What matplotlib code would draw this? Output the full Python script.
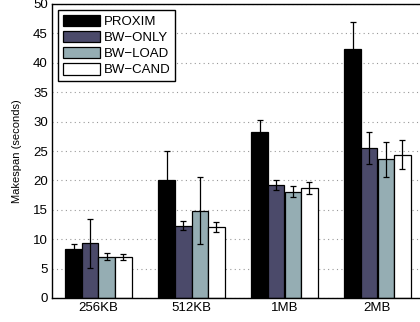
import numpy as np
import matplotlib.pyplot as plt

plt.rcParams["font.family"] = ["Liberation Sans", "DejaVu Sans"]

categories = ["256KB", "512KB", "1MB", "2MB"]
series = ["PROXIM", "BW\u2212ONLY", "BW\u2212LOAD", "BW\u2212CAND"]
proxim = [8.3, 20.0, 28.2, 42.4]
bw_only = [9.3, 12.3, 19.2, 25.5]
bw_load = [7.0, 14.8, 18.1, 23.6]
bw_cand = [7.0, 12.1, 18.65, 24.4]
proxim_err = [0.9, 5.0, 2.0, 4.5]
bw_only_err = [4.2, 0.8, 0.9, 2.7]
bw_load_err = [0.6, 5.7, 0.9, 3.0]
bw_cand_err = [0.5, 0.8, 1.0, 2.4]

values = [proxim, bw_only, bw_load, bw_cand]
errors = [proxim_err, bw_only_err, bw_load_err, bw_cand_err]
colors = ["#000000", "#4b4a6a", "#95adb3", "#ffffff"]

fig = plt.figure(figsize=(4.2, 3.22), dpi=100)
ax = fig.add_axes([52 / 420, 24 / 322, 372 / 420, 294 / 322])

x = np.arange(1, len(categories) + 1)
w = 0.179
for i, (vals, errs, c) in enumerate(zip(values, errors, colors)):
    pos = x + (i - 1.5) * w
    ax.bar(pos, vals, width=w, color=c, edgecolor="black", linewidth=0.9,
           label=series[i], zorder=2)
    ax.errorbar(pos, vals, yerr=errs, fmt="none", ecolor="black",
                elinewidth=0.9, capsize=2.5, capthick=0.9, zorder=3)

ax.set_xlim(0.5, 4.5)
ax.set_ylim(0, 50)
ax.set_yticks(range(0, 51, 5))
ax.set_xticks(x)
ax.set_xticklabels(categories)
ax.yaxis.grid(True, linestyle=(0, (1, 3)), color="#999999", linewidth=0.8, zorder=0)
ax.set_axisbelow(True)
ax.tick_params(axis="both", direction="in", length=0, labelsize=9.5, pad=3)
for s in ax.spines.values():
    s.set_linewidth(1.0)
    s.set_zorder(4)
ax.set_ylabel("Makespan (seconds)", fontsize=8, labelpad=8)

leg = ax.legend(loc="upper left", fontsize=9.5, frameon=True, fancybox=False,
                edgecolor="black", framealpha=1, handlelength=2.8,
                handleheight=1.0, borderpad=0.35, labelspacing=0.2,
                handletextpad=0.3, borderaxespad=0.45)
leg.get_frame().set_linewidth(1.0)

fig.savefig("out.png", dpi=100)
